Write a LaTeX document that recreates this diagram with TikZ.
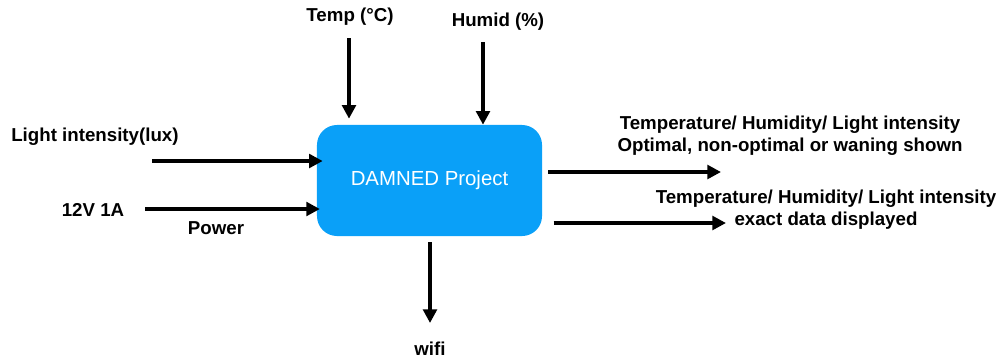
\documentclass[tikz,border=0pt]{standalone}
\usepackage{fontspec}
\setmainfont{Liberation Sans}
\usepackage{xcolor}
\usetikzlibrary{arrows.meta, positioning}
\definecolor{projBlue}{HTML}{0AA0F8}

\begin{document}
\begin{tikzpicture}[
    x=0.025cm, y=-0.025cm,
    font=\fontsize{13.3}{15.8}\selectfont\bfseries,
    block/.style={fill=projBlue, rounded corners=0.5cm, minimum width=5.625cm,
                  minimum height=2.775cm, text=white,
                  font=\fontsize{14.5}{17}\selectfont},
    lbl/.style={align=center, inner sep=0pt},
    arrow/.style={-{Triangle[length=0.34cm, width=0.34cm]}, line width=2.6pt},
]
\useasboundingbox (0,0) rectangle (1003,358);

% Project block
\node[block] (proj) at (429.5,180.5) {DAMNED Project};

% Inputs
\node[lbl] (temp) at (350,17) {Temp (°C)};
\node[lbl] (humid) at (498,22) {Humid (\%)};
\node[lbl, anchor=west] (light) at (11,137) {Light intensity(lux)};
\node[lbl] (supply) at (93,210) {12V 1A};
\node[lbl] (power) at (216,228) {Power};

% Outputs
\node[lbl] (status) at (790,136) {Temperature/ Humidity/ Light intensity\\
    Optimal, non-optimal or waning shown};
\node[lbl] (exact) at (826,210) {Temperature/ Humidity/ Light intensity\\
    exact data displayed};
\node[lbl] (wifi) at (430,349) {wifi};

\coordinate (tempin) at (349,38);
\coordinate (humidin) at (483,42);
\coordinate (lightin) at (152,161);
\coordinate (supplyin) at (145,209);
\coordinate (statusout) at (721,172);
\coordinate (exactout) at (726,223);
\coordinate (wifiout) at (430,323);

\draw[arrow] (tempin) -- ([yshift=0.15cm]tempin |- proj.north);
\draw[arrow] (humidin) -- (humidin |- proj.north);
\draw[arrow] (lightin) -- ([xshift=0.15cm]lightin -| proj.west);
\draw[arrow] (supplyin) -- ([xshift=0.08cm]supplyin -| proj.west);
\draw[arrow] ([xshift=0.15cm]statusout -| proj.east) -- (statusout);
\draw[arrow] ([xshift=0.28cm]exactout -| proj.east) -- (exactout);
\draw[arrow] ([yshift=-0.15cm]wifiout |- proj.south) -- (wifiout);
\end{tikzpicture}
\end{document}
